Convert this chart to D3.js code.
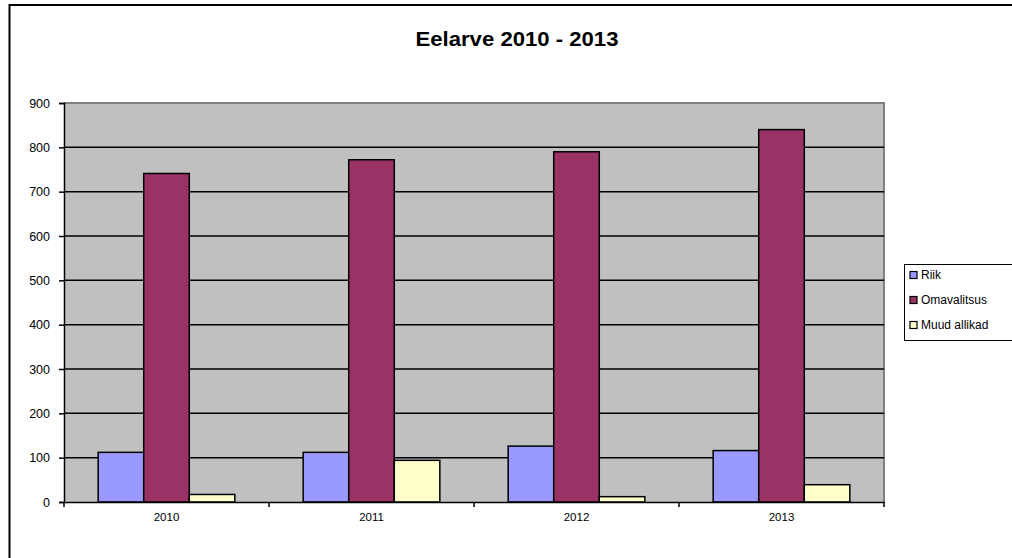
<!DOCTYPE html>
<html><head><meta charset="utf-8">
<script src="https://cdn.jsdelivr.net/npm/d3@7"></script>
<style>
html,body{margin:0;padding:0;background:#fff;overflow:hidden}
text{font-family:"Liberation Sans",Arial,sans-serif;fill:#000}
</style></head>
<body>
<svg id="chart" width="1012" height="558"></svg>
<script>
const categories = ["2010","2011","2012","2013"];
const seriesNames = ["Riik","Omavalitsus","Muud allikad"];
const riik = [112, 112, 126, 116];
const omavalitsus = [741, 772, 790, 840];
const muudAllikad = [17, 94, 12, 39];
const yTicks = [0,100,200,300,400,500,600,700,800,900];
const colors = ["#9999FF","#993366","#FFFFCC"];
const title = "Eelarve 2010 - 2013";

const values = [riik, omavalitsus, muudAllikad];
const svg = d3.select("#chart");

// outer border
svg.append("rect").attr("x",9.5).attr("y",5).attr("width",1010).attr("height",560)
  .attr("fill","#fff").attr("stroke","#000").attr("stroke-width",2);

const L=64, R=884, T=103, B=502;
const x0 = d3.scaleBand().domain(categories).range([L,R]).padding(0);
const bw = x0.bandwidth();
const x1 = d3.scaleBand().domain(seriesNames).range([bw/6, bw - bw/6]).padding(0);
const y = d3.scaleLinear().domain([0,900]).range([B,T]);

// plot background
svg.append("rect").attr("x",L).attr("y",T).attr("width",R-L).attr("height",B-T)
  .attr("fill","#C0C0C0");
svg.append("path").attr("d",`M${L},${T}H${R}V${B}`).attr("fill","none")
  .attr("stroke","#808080").attr("stroke-width",2);

// gridlines
svg.append("g").selectAll("line").data(yTicks.filter(d=>d>0 && d<900)).join("line")
  .attr("x1",L).attr("x2",R).attr("y1",d=>y(d)).attr("y2",d=>y(d))
  .attr("stroke","#000").attr("stroke-width",1.5);

// bars
const groups = svg.append("g").selectAll("g").data(categories).join("g")
  .attr("transform",d=>`translate(${x0(d)},0)`);
groups.selectAll("rect").data((c,i)=>seriesNames.map((s,j)=>({s,j,v:values[j][i]}))).join("rect")
  .attr("x",d=>x1(d.s)).attr("width",x1.bandwidth())
  .attr("y",d=>y(d.v)).attr("height",d=>B-y(d.v))
  .attr("fill",d=>colors[d.j]).attr("stroke","#000").attr("stroke-width",1.5);

// y axis
const yAxis = d3.axisLeft(y).tickValues(yTicks).tickSize(5).tickPadding(9);
const gy = svg.append("g").attr("transform",`translate(${L},0)`).call(yAxis);
gy.select(".domain").attr("stroke","#000").attr("stroke-width",1.5);
gy.selectAll(".tick line").attr("stroke","#000").attr("stroke-width",1.5);
gy.selectAll("text").attr("font-size",12.5).style("font-family","Liberation Sans, Arial, sans-serif");

// x axis
const xAxis = d3.axisBottom(x0).tickSize(0).tickPadding(11);
const gx = svg.append("g").attr("transform",`translate(0,${B})`).call(xAxis);
gx.select(".domain").attr("stroke","#000").attr("stroke-width",1.5);
gx.selectAll("text").attr("font-size",11.5).style("font-family","Liberation Sans, Arial, sans-serif");
// category boundary ticks
const bounds = categories.map(c=>x0(c)).concat([R]);
svg.append("g").selectAll("line").data(bounds).join("line")
  .attr("x1",d=>d).attr("x2",d=>d).attr("y1",B).attr("y2",B+5)
  .attr("stroke","#000").attr("stroke-width",1.5);

// title
svg.append("text").attr("x",517).attr("y",46).attr("text-anchor","middle")
  .attr("font-size",20).attr("font-weight","bold")
  .attr("textLength",203).attr("lengthAdjust","spacingAndGlyphs").text(title);

// legend
const lg = svg.append("g").attr("transform","translate(904,264)");
lg.append("rect").attr("x",0.5).attr("y",0.5).attr("width",120).attr("height",76)
  .attr("fill","#fff").attr("stroke","#000").attr("stroke-width",1);
const li = lg.selectAll("g").data(seriesNames).join("g")
  .attr("transform",(d,i)=>`translate(6,${15+i*25})`);
li.append("rect").attr("x",0).attr("y",-7.5).attr("width",7).attr("height",7)
  .attr("fill",(d,i)=>colors[i]).attr("stroke","#000").attr("stroke-width",1.2);
li.append("text").attr("x",11).attr("y",0).attr("font-size",12).text(d=>d);
</script>
</body></html>
